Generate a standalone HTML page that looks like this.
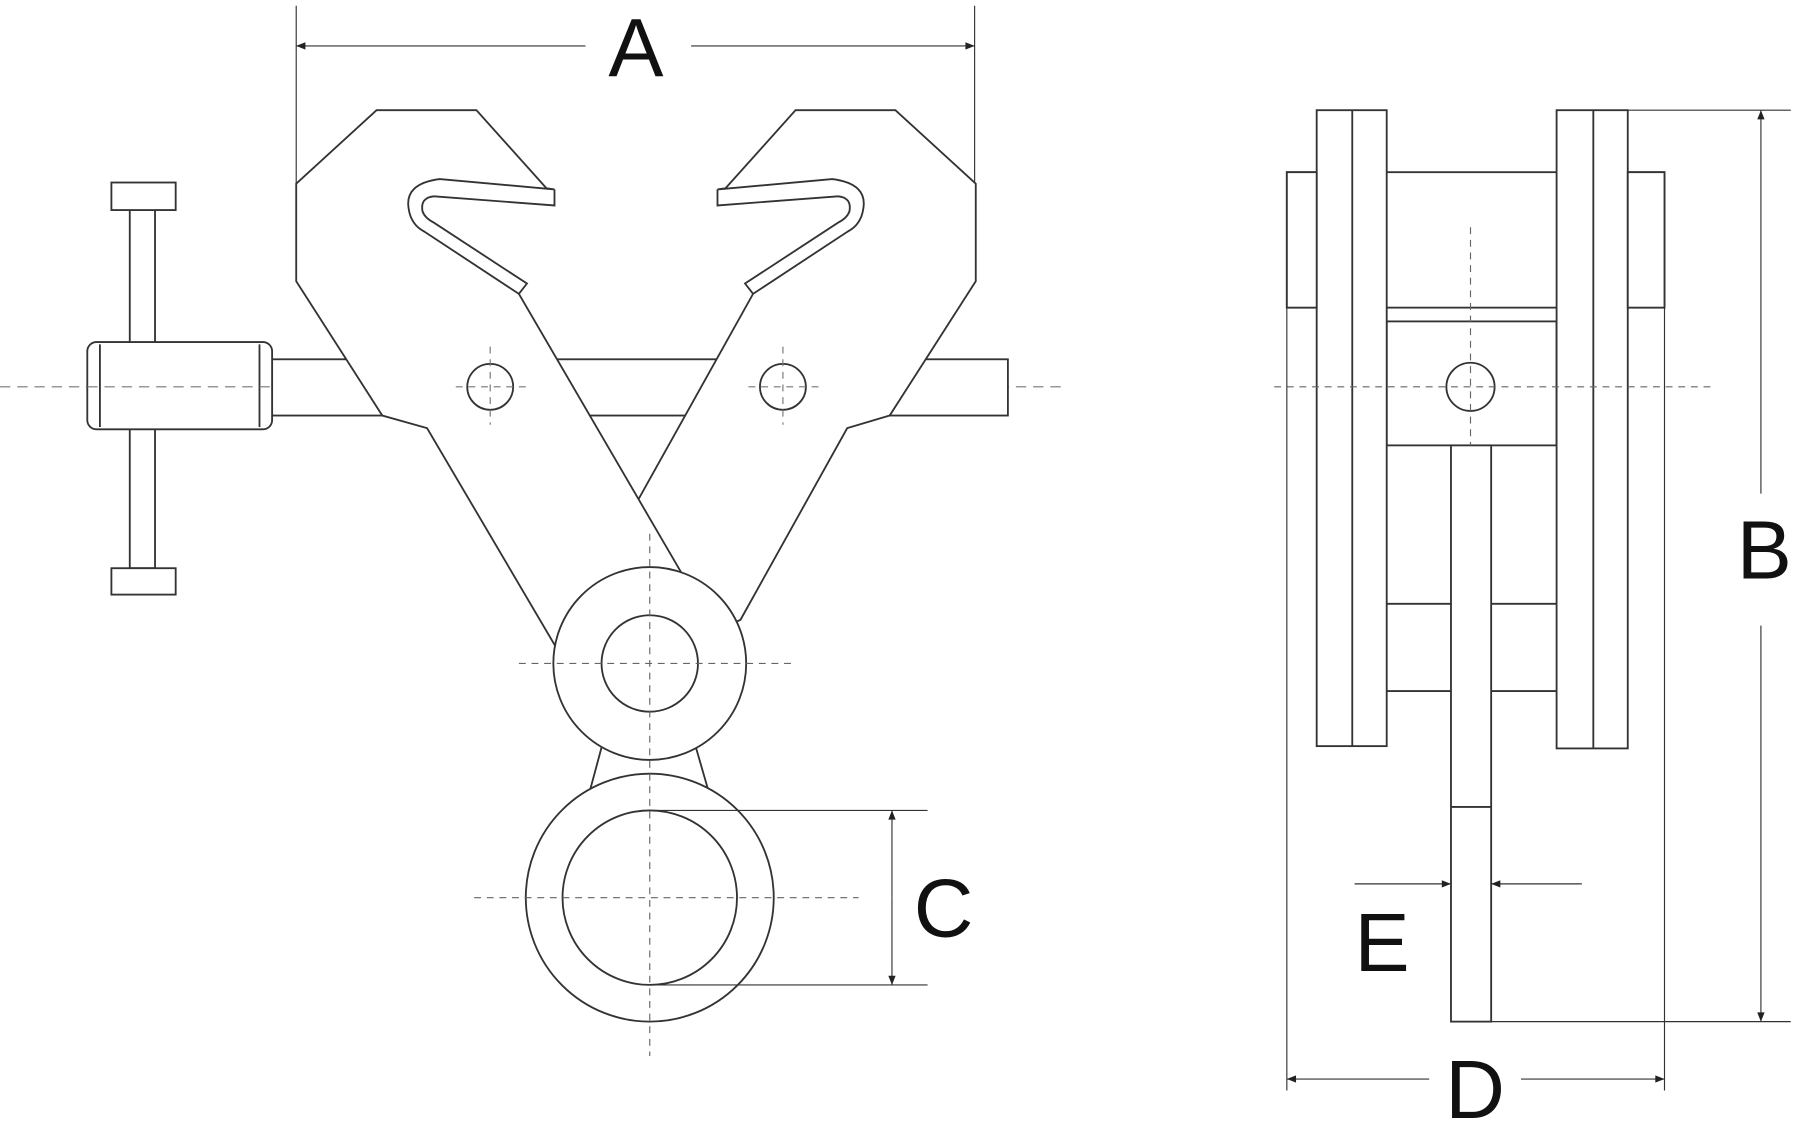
<!DOCTYPE html>
<html><head><meta charset="utf-8"><style>html,body{margin:0;padding:0;background:#fff}svg{display:block}</style></head>
<body>
<svg width="1800" height="1141" viewBox="0 0 1568 994" xmlns="http://www.w3.org/2000/svg">
<defs>
<marker id="ar" viewBox="0 0 10 10" refX="10" refY="5" markerWidth="12" markerHeight="8" orient="auto-start-reverse" markerUnits="userSpaceOnUse">
<path d="M0,1 L10,5 L0,9 z" fill="#222"/></marker>
</defs>
<g fill="#fff" stroke="#333" stroke-width="1.6">
<!-- dimension A -->
<line x1="258" y1="5" x2="258" y2="212" stroke-width="1"/>
<line x1="849" y1="5" x2="849" y2="212" stroke-width="1"/>
<line x1="510" y1="40" x2="258" y2="40" stroke-width="1" marker-end="url(#ar)"/>
<line x1="602" y1="40" x2="849" y2="40" stroke-width="1" marker-end="url(#ar)"/>
<!-- center dashed -->
<line x1="0" y1="337" x2="930" y2="337" stroke="#777" stroke-width="1" stroke-dasharray="9,6"/>
<!-- bar -->
<rect x="237" y="313" width="641" height="49"/>
<!-- T handle -->
<rect x="113" y="183" width="22" height="312"/>
<rect x="97" y="159" width="56" height="24"/>
<rect x="97" y="495" width="56" height="23"/>
<rect x="76" y="298" width="161" height="76" rx="8"/>
<line x1="87" y1="300" x2="87" y2="372"/>
<line x1="226" y1="300" x2="226" y2="372"/>
<line x1="76" y1="337" x2="237" y2="337" stroke="#777" stroke-width="1" stroke-dasharray="9,6"/>
<!-- right arm (mirrored) -->
<g transform="translate(1108,0) scale(-1,1)">
<path d="M258,160 L328,96 L415,96 L476,164 L483,165 L383,156 Q352,160 356,182 Q358,196 370,202 L452,256 L563,455 L508,560 L463,540 L370,373 L333,362 L258,245 Z"/>
<path d="M483,165 L483,179 L378,171 Q366,172 368,184 Q370,190 378,194 L459,247 L452,256" fill="none"/>
</g>
<!-- left arm -->
<path d="M258,160 L328,96 L415,96 L476,164 L483,165 L383,156 Q352,160 356,182 Q358,196 370,202 L452,256 L600,510 L485,565 L372,373 L333,362 L258,245 Z"/>
<path d="M483,165 L483,179 L378,171 Q366,172 368,184 Q370,190 378,194 L459,247 L452,256" fill="none"/>
<!-- holes -->
<circle cx="427" cy="337" r="20"/>
<circle cx="682" cy="337" r="20"/>
<g stroke="#777" stroke-width="1" stroke-dasharray="6,5">
<line x1="427" y1="302" x2="427" y2="370"/><line x1="397" y1="337" x2="460" y2="337"/>
<line x1="682" y1="302" x2="682" y2="370"/><line x1="652" y1="337" x2="715" y2="337"/>
</g>
<!-- link -->
<line x1="527" y1="640" x2="513" y2="692"/>
<line x1="603" y1="640" x2="618" y2="692"/>
<!-- rings -->
<circle cx="566" cy="578" r="84"/>
<circle cx="566" cy="578" r="42"/>
<circle cx="566" cy="782" r="108"/>
<circle cx="566" cy="782" r="76"/>
<g stroke="#666" stroke-width="1" stroke-dasharray="6,5" fill="none">
<line x1="452" y1="578" x2="690" y2="578"/>
<line x1="566" y1="465" x2="566" y2="920"/>
<line x1="413" y1="782" x2="748" y2="782"/>
</g>
<!-- C dim -->
<line x1="566" y1="706" x2="808" y2="706" stroke-width="1"/>
<line x1="566" y1="858" x2="808" y2="858" stroke-width="1"/>
<line x1="777" y1="782" x2="777" y2="706" stroke-width="1" marker-end="url(#ar)"/>
<line x1="777" y1="782" x2="777" y2="858" stroke-width="1" marker-end="url(#ar)"/>

<!-- RIGHT VIEW -->
<rect x="1121" y="150" width="329" height="118"/>
<rect x="1208" y="280" width="148" height="108"/>
<line x1="1208" y1="526" x2="1356" y2="526"/>
<line x1="1208" y1="602" x2="1356" y2="602"/>
<rect x="1147" y="96" width="61" height="554"/>
<line x1="1178" y1="96" x2="1178" y2="650"/>
<rect x="1356" y="96" width="62" height="556"/>
<line x1="1388" y1="96" x2="1388" y2="652"/>
<rect x="1121" y="150" width="26" height="118"/>
<rect x="1418" y="150" width="32" height="118"/>
<rect x="1264" y="388" width="35" height="502"/>
<line x1="1264" y1="703" x2="1299" y2="703"/>
<circle cx="1281" cy="337" r="21"/>
<g stroke="#666" stroke-width="1" stroke-dasharray="6,5">
<line x1="1281" y1="198" x2="1281" y2="388"/>
<line x1="1110" y1="337" x2="1490" y2="337"/>
</g>
<!-- B -->
<line x1="1418" y1="96" x2="1560" y2="96" stroke-width="1"/>
<line x1="1299" y1="890" x2="1560" y2="890" stroke-width="1"/>
<line x1="1534" y1="430" x2="1534" y2="96" stroke-width="1" marker-end="url(#ar)"/>
<line x1="1534" y1="545" x2="1534" y2="890" stroke-width="1" marker-end="url(#ar)"/>
<!-- D -->
<line x1="1121" y1="268" x2="1121" y2="950" stroke-width="1"/>
<line x1="1450" y1="268" x2="1450" y2="950" stroke-width="1"/>
<line x1="1245" y1="940" x2="1121" y2="940" stroke-width="1" marker-end="url(#ar)"/>
<line x1="1325" y1="940" x2="1450" y2="940" stroke-width="1" marker-end="url(#ar)"/>
<!-- E -->
<line x1="1180" y1="770" x2="1264" y2="770" stroke-width="1" marker-end="url(#ar)"/>
<line x1="1378" y1="770" x2="1299" y2="770" stroke-width="1" marker-end="url(#ar)"/>
</g>
<g font-family="Liberation Sans, sans-serif" font-size="72" fill="#111" text-anchor="middle">
<text x="554" y="66">A</text>
<text x="822" y="816">C</text>
<text x="1537" y="504">B</text>
<text x="1204" y="846">E</text>
<text x="1285" y="974">D</text>
</g>
</svg>
</body></html>
